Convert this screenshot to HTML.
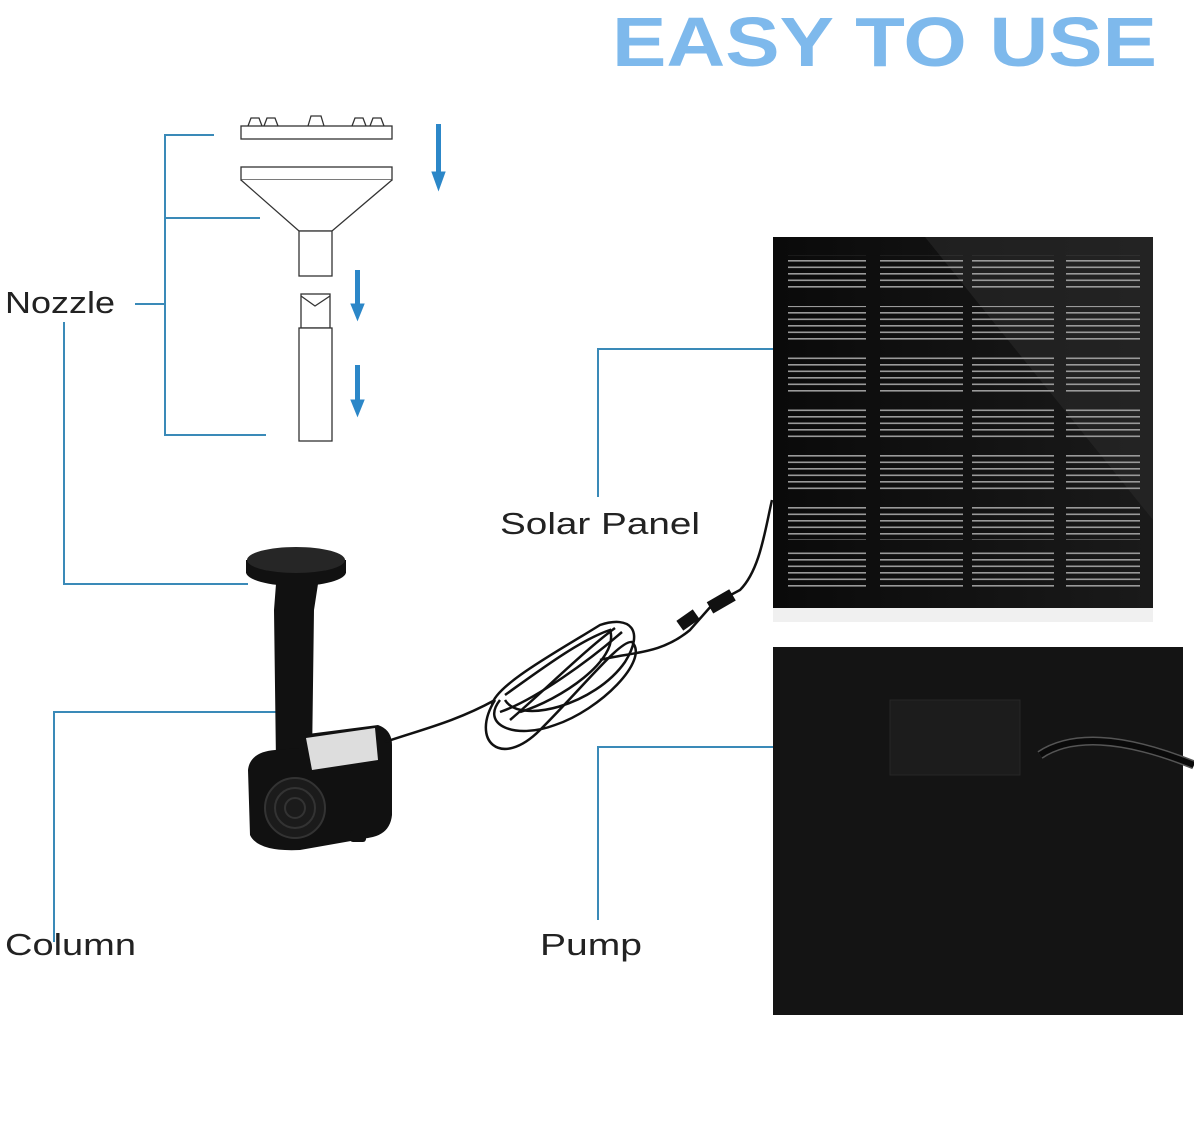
<!DOCTYPE html>
<html><head><meta charset="utf-8"><style>
html,body{margin:0;padding:0;background:#fff;}
svg{display:block;}
text{font-family:"Liberation Sans",sans-serif;}
</style></head><body>
<svg width="1194" height="1146" viewBox="0 0 1194 1146" xmlns="http://www.w3.org/2000/svg">
<defs>
<pattern id="ln" width="10" height="6.5" patternUnits="userSpaceOnUse">
<rect x="0" y="0" width="10" height="1.6" fill="#9a9a9a"/>
</pattern>
<linearGradient id="gl" x1="0" y1="0" x2="1" y2="0">
<stop offset="0" stop-color="#0a0a0a"/><stop offset="1" stop-color="#1a1a1a"/>
</linearGradient>
</defs>
<rect width="1194" height="1146" fill="#fff"/>
<text x="612" y="66" font-size="70" font-weight="bold" fill="#7eb9ec" textLength="545" lengthAdjust="spacingAndGlyphs">EASY TO USE</text>

<g fill="#fff" stroke="#333" stroke-width="1.3">
<path d="M248 126 l3-8 h8 l3 8 M264 126 l3-8 h8 l3 8 M308 126 l3-10 h10 l3 10 M352 126 l3-8 h8 l3 8 M370 126 l3-8 h8 l3 8"/>
<rect x="241" y="126" width="151" height="13"/>
<rect x="241" y="167" width="151" height="13"/>
<path d="M241 180 L299 231 H332 L392 180"/>
<rect x="299" y="231" width="33" height="45"/>
<rect x="301" y="294" width="29" height="34"/>
<path d="M301 296 L315 306 L330 296"/>
<rect x="299" y="328" width="33" height="113"/>
</g>
<g fill="#2c87c8" stroke="#2c87c8">
<rect x="436" y="124" width="5" height="52" stroke="none"/><path d="M432 172 h13 l-6.5 18z"/>
<rect x="355" y="270" width="5" height="38" stroke="none"/><path d="M351 304 h13 l-6.5 16z"/>
<rect x="355" y="365" width="5" height="38" stroke="none"/><path d="M351 400 h13 l-6.5 16z"/>
</g>

<g fill="none" stroke="#3a8ab8" stroke-width="2">
<path d="M214 135 H165 V435 H266"/>
<path d="M165 218 H260"/>
<path d="M135 304 H165"/>
<path d="M64 322 V584 H248"/>
<path d="M54 942 V712 H276"/>
<path d="M598 497 V349 H805"/>
<path d="M598 920 V747 H905"/>
</g>
<circle cx="805" cy="350" r="5" fill="#3a8ab8"/>
<circle cx="905" cy="747" r="5" fill="#3a8ab8"/>

<g font-size="31" fill="#222">
<text x="5" y="313" textLength="110" lengthAdjust="spacingAndGlyphs">Nozzle</text>
<text x="500" y="534" textLength="200" lengthAdjust="spacingAndGlyphs">Solar Panel</text>
<text x="5" y="955" textLength="131" lengthAdjust="spacingAndGlyphs">Column</text>
<text x="540" y="955" textLength="102" lengthAdjust="spacingAndGlyphs">Pump</text>
</g>

<!-- Pump product -->
<g fill="#111">
<ellipse cx="296" cy="572" rx="50" ry="14"/>
<rect x="246" y="560" width="100" height="13"/>
<ellipse cx="296" cy="560" rx="49" ry="13" fill="#262626"/>
<path d="M276 584 L318 584 L314 610 L312 760 L276 762 L274 610 Z"/>
<path d="M248 770 Q250 752 275 750 L300 748 L300 735 L378 725 Q392 730 392 745 L392 815 Q390 835 368 838 L300 850 Q258 852 250 835 Z"/>
<path d="M306 738 L375 728 L378 760 L312 770 Z" fill="#ddd"/>
<rect x="350" y="830" width="16" height="12" rx="3"/>
<circle cx="295" cy="808" r="30" fill="#1b1b1b" stroke="#333" stroke-width="2"/>
<circle cx="295" cy="808" r="20" fill="none" stroke="#333" stroke-width="2"/>
<circle cx="295" cy="808" r="10" fill="none" stroke="#333" stroke-width="2"/>
</g>
<!-- cable -->
<g fill="none" stroke="#111" stroke-width="2.5">
<path d="M385 742 C420 730 455 722 495 700"/>
<path d="M495 700 C470 740 500 770 540 730 C585 685 620 640 632 642 C650 660 600 710 555 725 C515 740 480 725 500 700"/>
<path d="M492 705 C495 685 560 650 600 625 C630 615 645 630 625 662 C595 705 520 725 505 700"/>
<path d="M500 712 C535 700 590 660 622 632"/>
<path d="M510 720 C545 690 585 650 615 628"/>
<path d="M505 695 C540 670 580 640 610 630 C620 660 560 700 520 712"/>
<path d="M600 660 C630 652 660 655 690 630 L712 605 L740 590 C760 570 765 530 772 500"/>
</g>
<rect x="678" y="614" width="20" height="12" fill="#111" transform="rotate(-35 688 620)"/>
<rect x="708" y="595" width="26" height="13" fill="#111" transform="rotate(-30 721 601)"/>

<rect x="773" y="237" width="380" height="371" fill="url(#gl)"/>
<polygon points="925,237 1153,237 1153,520" fill="#2a2a2a" opacity="0.6"/>
<g fill="url(#ln)">
<rect x="788" y="255" width="78" height="37"/><rect x="880" y="255" width="83" height="37"/><rect x="972" y="255" width="82" height="37"/><rect x="1066" y="255" width="74" height="37"/>
<rect x="788" y="306" width="78" height="37"/><rect x="880" y="306" width="83" height="37"/><rect x="972" y="306" width="82" height="37"/><rect x="1066" y="306" width="74" height="37"/>
<rect x="788" y="356" width="78" height="37"/><rect x="880" y="356" width="83" height="37"/><rect x="972" y="356" width="82" height="37"/><rect x="1066" y="356" width="74" height="37"/>
<rect x="788" y="405" width="78" height="37"/><rect x="880" y="405" width="83" height="37"/><rect x="972" y="405" width="82" height="37"/><rect x="1066" y="405" width="74" height="37"/>
<rect x="788" y="454" width="78" height="37"/><rect x="880" y="454" width="83" height="37"/><rect x="972" y="454" width="82" height="37"/><rect x="1066" y="454" width="74" height="37"/>
<rect x="788" y="503" width="78" height="37"/><rect x="880" y="503" width="83" height="37"/><rect x="972" y="503" width="82" height="37"/><rect x="1066" y="503" width="74" height="37"/>
<rect x="788" y="550" width="78" height="37"/><rect x="880" y="550" width="83" height="37"/><rect x="972" y="550" width="82" height="37"/><rect x="1066" y="550" width="74" height="37"/>
</g>
<rect x="773" y="608" width="380" height="14" fill="#f0f0f0"/>

<rect x="773" y="647" width="410" height="368" fill="#141414"/>
<rect x="890" y="700" width="130" height="75" fill="#1c1c1c" stroke="#262626"/>
<path d="M1040 755 C1070 735 1120 735 1194 765" fill="none" stroke="#555" stroke-width="9"/>
<path d="M1040 755 C1070 735 1120 735 1194 765" fill="none" stroke="#0a0a0a" stroke-width="6"/>
</svg>
</body></html>
